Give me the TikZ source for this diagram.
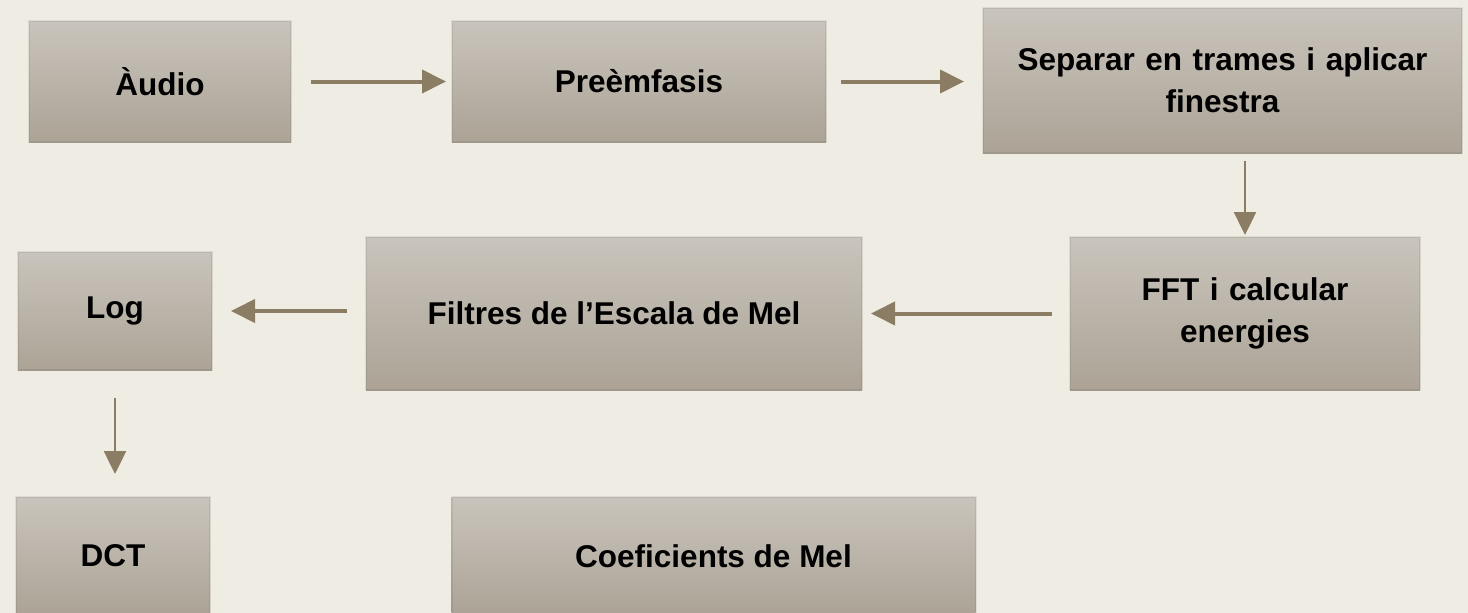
\documentclass[tikz,border=0pt]{standalone}
\usepackage{fontspec}
\setmainfont{Liberation Sans}
\usetikzlibrary{arrows.meta}
\definecolor{bg}{HTML}{EFECE3}
\definecolor{boxtop}{HTML}{C9C4BC}
\definecolor{boxbot}{HTML}{ACA396}
\definecolor{arr}{HTML}{8B7D64}
\tikzset{
  x=1pt,y=-1pt,
  box/.style={rectangle, inner sep=0pt, top color=boxtop, bottom color=boxbot,
    draw=black, draw opacity=0.07, line width=2pt, align=center,
    font=\fontsize{31.5}{42}\selectfont\bfseries},
  thick arrow/.style={draw=arr, line width=4pt, -{Triangle[length=24pt,width=23pt]}},
  thin arrow/.style={draw=arr, line width=2.5pt, -{Triangle[length=23pt,width=22pt]}}
}
\begin{document}
\begin{tikzpicture}
\fill[bg] (0,0) rectangle (1468,613);
\useasboundingbox (0,0) rectangle (1468,613);
\node[box, minimum width=262pt, minimum height=121pt] (audio) at (160,81.5) {Àudio};
\node[box, minimum width=374pt, minimum height=121pt] (pre) at (639,81.5) {Preèmfasis};
\node[box, minimum width=479pt, minimum height=145pt, text width=460pt] (sep) at (1222.5,80.5) {Separar en trames i aplicar\\finestra};
\node[box, minimum width=350pt, minimum height=153pt, text width=330pt] (fft) at (1245,313.5) {FFT i calcular\\energies};
\node[box, minimum width=496pt, minimum height=153pt] (fil) at (614,313.5) {Filtres de l’Escala de Mel};
\node[box, minimum width=194pt, minimum height=118pt] (log) at (115,311) {Log};
\node[box, minimum width=194pt, minimum height=118pt] (dct) at (113,556) {DCT};
\node[box, minimum width=524pt, minimum height=118pt] (coef) at (713.5,556) {Coeficients de Mel};

\draw[thick arrow, shorten <=19pt, shorten >=5pt] (audio.east) -- (pre.west);
\draw[thick arrow, shorten <=14pt, shorten >=18pt] (pre.east) -- (pre.east -| sep.west);
\draw[thin arrow, shorten <=7pt, shorten >=1pt] (sep.south -| fft.north) -- (fft.north);
\draw[thick arrow, shorten <=17pt, shorten >=8pt] (fft.west |- fil.east) -- (fil.east);
\draw[thick arrow, shorten <=18pt, shorten >=18pt] (fil.west |- log.east) -- (log.east);
\draw[thin arrow, shorten <=27pt, shorten >=22pt] (log.south) -- (log.south |- dct.north);
\end{tikzpicture}
\end{document}
